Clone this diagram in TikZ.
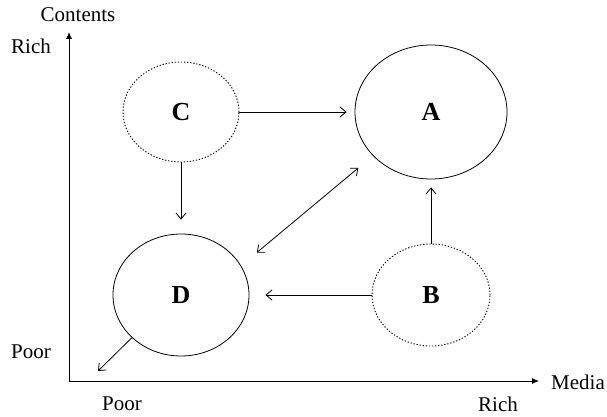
\documentclass[tikz,border=0pt]{standalone}
\usepackage{fontspec}
\setmainfont{Liberation Serif}
\usetikzlibrary{shapes.geometric,arrows.meta}
\begin{document}
\begin{tikzpicture}[x=1pt,y=-1pt,
  lab/.style={font=\fontsize{21}{24}\selectfont, inner sep=0pt},
  circ/.style={ellipse, draw, line width=0.8pt, inner sep=0pt,
    font=\fontsize{26}{28}\selectfont\bfseries},
  dotcirc/.style={circ, line width=0.9pt, dash pattern=on 1.3pt off 1.8pt},
  conn/.style={line width=0.8pt, -{Straight Barb[length=6pt,width=10pt]}},
  axis/.style={line width=0.9pt, -{Latex[length=7pt,width=6pt]}}
]
\path[use as bounding box] (0,0) rectangle (607,417);
% axes
\coordinate (O) at (69,381);
\coordinate (Ytop) at (69,32);
\coordinate (Xend) at (539,381);
\draw[axis] (O) -- (Ytop);
\draw[axis] (O) -- (Xend);
% labels
\node[lab] (tcont) at (78,15) {Contents};
\node[lab] (trichy) at (31,46) {Rich};
\node[lab] (tpoory) at (31,352) {Poor};
\node[lab] (tpoorx) at (122,404) {Poor};
\node[lab] (trichx) at (498,404) {Rich};
\node[lab] (tmedia) at (578,382) {Media};
% nodes
\node[circ, minimum width=152pt, minimum height=134pt] (A) at (431,112) {A};
\node[dotcirc, minimum width=118pt, minimum height=102pt] (B) at (431,295) {B};
\node[dotcirc, minimum width=116pt, minimum height=100pt] (C) at (181,112) {C};
\node[circ, minimum width=136pt, minimum height=122pt] (D) at (181,295) {D};
\coordinate (Dout) at (98,371);
% connectors
\draw[conn, shorten >=8pt] (C.east) -- (A.west);
\draw[conn, shorten >=14pt] (C.south) -- (D.north);
\draw[conn, shorten >=8pt] (B.north) -- (A.south);
\draw[conn, shorten >=16pt] (B.west) -- (D.east);
\draw[conn, {Straight Barb[length=6pt,width=10pt]}-{Straight Barb[length=6pt,width=10pt]}, shorten <=19pt, shorten >=20.5pt] (A.217.5) -- (D.26.9);
\draw[conn] (D.221.3) -- (Dout);
\end{tikzpicture}
\end{document}
